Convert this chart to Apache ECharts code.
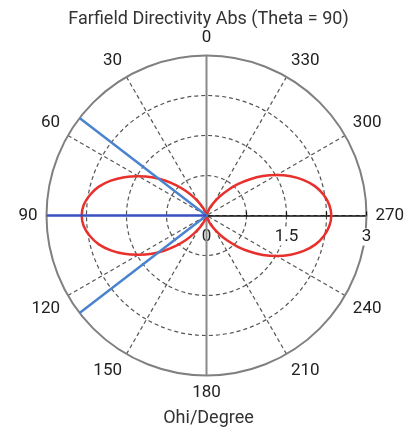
<!DOCTYPE html>
<html>
<head>
<meta charset="utf-8">
<script src="https://cdn.jsdelivr.net/npm/echarts@6/dist/echarts.min.js"></script>
<style>
html,body{margin:0;padding:0;background:#fff;}
#chart{width:417px;height:431px;}
</style>
</head>
<body>
<div id="chart"></div>
<script>
// Phi angles (degrees) and directivity magnitudes
var phiDeg = [0,5,10,15,20,25,30,35,40,45,50,55,60,65,70,75,80,85,90,95,100,105,110,115,120,125,130,135,140,145,150,155,160,165,170,175,180,
  185,190,195,200,205,210,215,220,225,230,235,240,245,250,255,260,265,270,275,280,285,290,295,300,305,310,315,320,325,330,335,340,345,350,355,360];
var directivity = [0,0.00,0.01,0.04,0.09,0.17,0.28,0.42,0.60,0.80,1.02,1.25,1.47,1.70,1.91,2.09,2.22,2.31,2.34,2.31,2.22,2.09,1.91,1.70,1.47,1.25,1.02,0.80,0.60,0.42,0.28,0.17,0.09,0.04,0.01,0.00,0,
  0.00,0.01,0.04,0.09,0.18,0.29,0.44,0.62,0.83,1.05,1.29,1.52,1.74,1.94,2.11,2.23,2.31,2.34,2.31,2.23,2.11,1.94,1.74,1.52,1.29,1.05,0.83,0.62,0.44,0.29,0.18,0.09,0.04,0.01,0.00,0];
var mainLobeDirection = [90];
var halfPowerAngles = [52.5, 127.5];
var radiusMax = [3];
var angleTickLabels = [0,30,60,90,120,150,180,210,240,270,300,330];
var radiusTickLabels = [0,1.5,3];
var titleText = ['Farfield Directivity Abs (Theta = 90)'];
var axisTitle = ['Ohi/Degree'];

// the angle axis runs from -90 (drawn at the right, labelled 270) counter-clockwise
function toAxisAngle(a){ return a > 270 ? a - 360 : a; }
function pt(r, a){ return [r, toAxisAngle(a)]; }

var redData = phiDeg.map(function(a, i){ return pt(directivity[i], a); });
var R = radiusMax[0];
var mainData = [pt(R, mainLobeDirection[0]), pt(0, mainLobeDirection[0])];
var widthData = [pt(R, halfPowerAngles[0]), pt(0, mainLobeDirection[0]), pt(R, halfPowerAngles[1])];
var verticalData = [pt(R, 0), pt(R, 180)];

var FONT = 'Roboto';
var chart = echarts.init(document.getElementById('chart'), null, {renderer: 'canvas'});

// angle split-line colours, one per tick starting at -90 (right)
var splitCols = angleTickLabels.map(function(_, i){
  var v = ((i * 30 - 90) % 360 + 360) % 360;
  return (v === 0 || v === 180) ? 'rgba(0,0,0,0)' : '#555';
});

chart.setOption({
  animation: false,
  backgroundColor: '#fff',
  title: [
    {text: titleText[0], left: 'center', top: 5,
     textStyle: {fontFamily: FONT, fontSize: 18, fontWeight: 'normal', color: '#333'}},
    {text: axisTitle[0], left: 'center', top: 404,
     textStyle: {fontFamily: FONT, fontSize: 18, fontWeight: 'normal', color: '#333'}}
  ],
  polar: {center: [206.5, 215.5], radius: 160},
  angleAxis: {
    type: 'value', min: -90, max: 270, interval: 30, startAngle: 0, clockwise: false,
    axisLine: {show: true, lineStyle: {color: '#808080', width: 2}},
    axisTick: {show: false},
    axisLabel: {
      show: true, margin: 9, color: '#222', fontFamily: FONT, fontSize: 17,
      formatter: function(v){ return String(((v % 360) + 360) % 360); }
    },
    splitLine: {show: true, lineStyle: {color: splitCols, type: [4, 3], width: 1.2}}
  },
  radiusAxis: {
    type: 'value', min: 0, max: R, interval: 0.75,
    axisLine: {show: true, lineStyle: {color: '#111', width: 1.5}},
    axisTick: {show: true, inside: false, length: 4, lineStyle: {color: '#111', width: 1.2}},
    axisLabel: {
      show: true, margin: -30, color: '#222', fontFamily: FONT, fontSize: 17,
      showMinLabel: true, showMaxLabel: true,
      backgroundColor: '#fff', padding: [0, 1],
      formatter: function(v){
        for (var i = 0; i < radiusTickLabels.length; i++) {
          if (Math.abs(v - radiusTickLabels[i]) < 1e-6) return String(radiusTickLabels[i]);
        }
        return '';
      }
    },
    splitLine: {show: true, lineStyle: {color: ['#555', '#555', '#555', '#555', 'rgba(0,0,0,0)'], type: [4, 3], width: 1.2}}
  },
  series: [
    {type: 'line', coordinateSystem: 'polar', data: verticalData, symbol: 'none',
     lineStyle: {color: '#8a8a8a', width: 2}, z: 1, silent: true},
    {type: 'line', coordinateSystem: 'polar', data: redData, symbol: 'none', smooth: 0.4,
     lineStyle: {color: '#e8302c', width: 2.5}, z: 2},
    {type: 'line', coordinateSystem: 'polar', data: widthData, symbol: 'none',
     lineStyle: {color: '#4a84cf', width: 2.5}, z: 3},
    {type: 'line', coordinateSystem: 'polar', data: mainData, symbol: 'none',
     lineStyle: {color: '#3a50c0', width: 2.5}, z: 4}
  ]
});
</script>
</body>
</html>
